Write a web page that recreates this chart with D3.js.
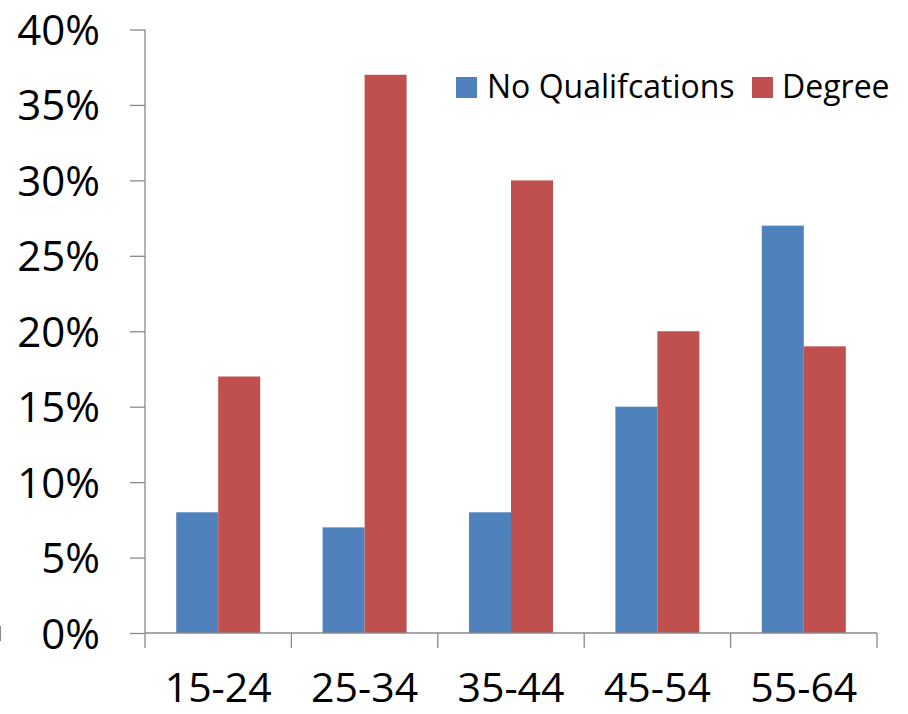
<!DOCTYPE html>
<html>
<head>
<meta charset="utf-8">
<script src="https://cdn.jsdelivr.net/npm/d3@7"></script>
<style>
  html, body { margin: 0; padding: 0; background: #fff; }
  svg { display: block; font-family: "Open Sans", "Noto Sans", sans-serif; }
</style>
</head>
<body>
<svg id="chart" width="908" height="714"></svg>
<script>
// Age groups and the share of each group in the two qualification series
const categories = ["15-24", "25-34", "35-44", "45-54", "55-64"];
const seriesNames = ["No Qualifcations", "Degree"];
const noQualifications = [0.08, 0.07, 0.08, 0.15, 0.27];
const degree = [0.17, 0.37, 0.30, 0.20, 0.19];
const yTicks = [0, 0.05, 0.10, 0.15, 0.20, 0.25, 0.30, 0.35, 0.40];
const colors = ["#4F81BD", "#C0504D"];

const svg = d3.select("#chart");
const axisColor = "#8a8a8a";

const plot = { left: 145, right: 877, top: 29.5, bottom: 633 };

const y = d3.scaleLinear().domain([0, 0.4]).range([plot.bottom, plot.top]);
const x = d3.scaleBand().domain(categories).range([plot.left, plot.right]).padding(0);
const x1 = d3.scaleBand().domain(seriesNames).range([0, x.bandwidth()])
  .paddingInner(0).paddingOuter(0.743);

const values = [noQualifications, degree];
const rows = categories.map((c, i) => ({
  cat: c,
  vals: seriesNames.map((s, k) => ({ series: s, k, v: values[k][i] }))
}));

// Bars
const groups = svg.append("g").selectAll("g").data(rows).join("g")
  .attr("transform", d => `translate(${x(d.cat)},0)`);
groups.selectAll("rect").data(d => d.vals).join("rect")
  .attr("x", d => x1(d.series))
  .attr("width", x1.bandwidth())
  .attr("y", d => y(d.v))
  .attr("height", d => y(0) - y(d.v))
  .attr("fill", d => colors[d.k]);

// Y axis
const yAxis = d3.axisLeft(y).tickValues(yTicks).tickSize(15)
  .tickFormat(d3.format(".0%"));
const gy = svg.append("g").attr("transform", `translate(${plot.left},0)`).call(yAxis);
gy.select(".domain").attr("stroke", axisColor).attr("stroke-width", 1.3)
  .attr("d", `M0,${plot.top}V${plot.bottom}`);
gy.selectAll(".tick line").attr("stroke", axisColor).attr("stroke-width", 1.3);
gy.selectAll(".tick text")
  .attr("x", -45).attr("dy", null).attr("y", 15)
  .attr("font-size", 42).attr("fill", "#000")
  .attr("font-family", "'Open Sans', sans-serif");

// X axis with ticks on the category boundaries
const gx = svg.append("g").attr("transform", `translate(0,${plot.bottom})`);
gx.append("line").attr("x1", plot.left).attr("x2", plot.right)
  .attr("stroke", axisColor).attr("stroke-width", 1.3);
const bounds = categories.map(c => x(c)).concat([x(categories[categories.length - 1]) + x.bandwidth()]);
gx.selectAll("line.b").data(bounds).join("line").attr("class", "b")
  .attr("x1", d => d).attr("x2", d => d).attr("y1", 0).attr("y2", 15)
  .attr("stroke", axisColor).attr("stroke-width", 1.3);
gx.selectAll("text").data(categories).join("text")
  .attr("x", d => x(d) + x.bandwidth() / 2)
  .attr("y", 69)
  .attr("text-anchor", "middle")
  .attr("font-size", 41)
  .attr("fill", "#000")
  .text(d => d);

// Legend
const legendItems = [
  { name: seriesNames[0], color: colors[0], sx: 456, tx: 487 },
  { name: seriesNames[1], color: colors[1], sx: 752, tx: 782 }
];
const lg = svg.append("g");
lg.selectAll("rect").data(legendItems).join("rect")
  .attr("x", d => d.sx).attr("y", 77).attr("width", 21).attr("height", 21)
  .attr("fill", d => d.color);
lg.selectAll("text").data(legendItems).join("text")
  .attr("x", d => d.tx).attr("y", 98)
  .attr("font-size", 32).attr("fill", "#000")
  .text(d => d.name);

// Small stray edge mark at the left border
svg.append("line").attr("x1", 0.5).attr("x2", 0.5).attr("y1", 626).attr("y2", 641)
  .attr("stroke", axisColor).attr("stroke-width", 1);
</script>
</body>
</html>
